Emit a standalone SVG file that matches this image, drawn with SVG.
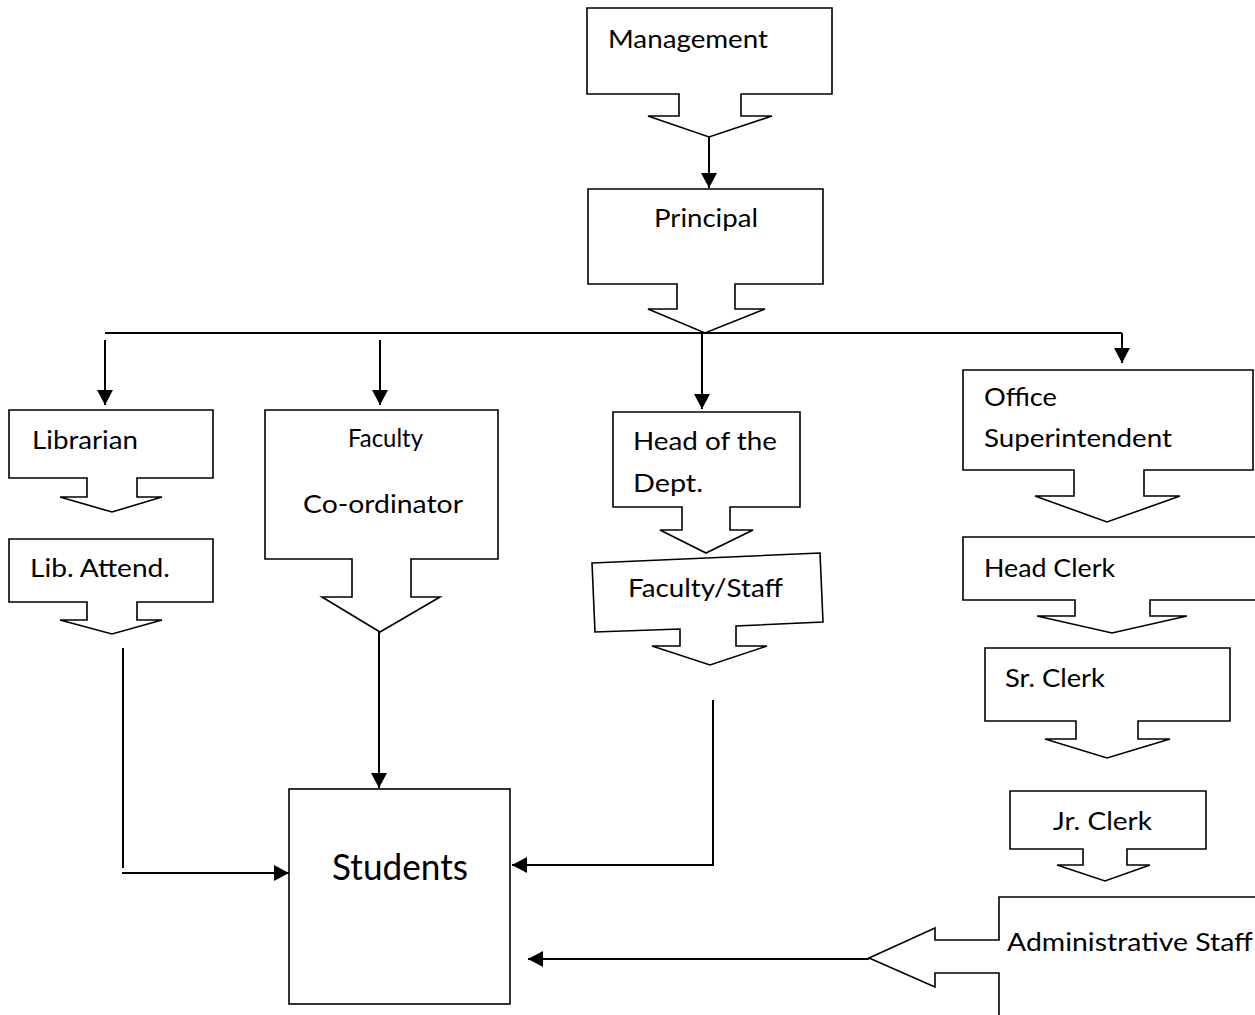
<svg xmlns="http://www.w3.org/2000/svg" width="1255" height="1015" viewBox="0 0 1255 1015">
<style>
.shape{fill:#fff;stroke:#000;stroke-width:1.6;stroke-linejoin:miter}
.conn{fill:none;stroke:#000;stroke-width:2}
text{font-family:Lato,"Liberation Sans",sans-serif;font-size:25px;fill:#000}
.big{font-size:36px}
</style>
<defs>
<marker id="ah" markerUnits="userSpaceOnUse" markerWidth="16" markerHeight="16" viewBox="0 0 16 16" refX="15" refY="8" orient="auto">
<path d="M0,0 L15,8 L0,16 Z" fill="#000"/>
</marker>
</defs>
<rect width="1255" height="1015" fill="#fff"/>
<g id="connectors">
<line class="conn" x1="709" y1="137" x2="709" y2="188" marker-end="url(#ah)"/>
<line class="conn" x1="105" y1="333" x2="1122" y2="333"/>
<line class="conn" x1="105" y1="340" x2="105" y2="405" marker-end="url(#ah)"/>
<line class="conn" x1="380" y1="340" x2="380" y2="405" marker-end="url(#ah)"/>
<line class="conn" x1="702" y1="333" x2="702" y2="409" marker-end="url(#ah)"/>
<line class="conn" x1="1122" y1="333" x2="1122" y2="363" marker-end="url(#ah)"/>
<line class="conn" x1="123" y1="648" x2="123" y2="868"/>
<line class="conn" x1="122" y1="873" x2="289" y2="873" marker-end="url(#ah)"/>
<line class="conn" x1="379" y1="632" x2="379" y2="788" marker-end="url(#ah)"/>
<polyline class="conn" points="713,700 713,865 512,865" marker-end="url(#ah)"/>
<line class="conn" x1="869" y1="959" x2="528" y2="959" marker-end="url(#ah)"/>
</g>
<g id="management">
<path class="shape" d="M587,8 H832 V94 H741 V116 H772 L709,137 L648,116 H679 V94 H587 Z"/>
<text x="608" y="48" textLength="160" lengthAdjust="spacingAndGlyphs">Management</text>
</g>
<g id="principal">
<path class="shape" d="M588,189 H823 V284 H735 V309 H765 L705,333 L648,309 H677 V284 H588 Z"/>
<text x="654" y="227" textLength="104" lengthAdjust="spacingAndGlyphs">Principal</text>
</g>
<g id="librarian">
<path class="shape" d="M9,410 H213 V478 H137 V497 H162 L112,512 L60,497 H87 V478 H9 Z"/>
<text x="32" y="449" textLength="106" lengthAdjust="spacingAndGlyphs">Librarian</text>
</g>
<g id="lib-attend">
<path class="shape" d="M9,539 H213 V602 H137 V620 H162 L112,634 L60,620 H87 V602 H9 Z"/>
<text x="30" y="577" textLength="140" lengthAdjust="spacingAndGlyphs">Lib. Attend.</text>
</g>
<g id="faculty-coordinator">
<path class="shape" d="M265,410 H498 V559 H411 V597 H440 L380,632 L322,597 H352 V559 H265 Z"/>
<text x="348" y="447" textLength="75" lengthAdjust="spacingAndGlyphs">Faculty</text>
<text x="303" y="513" textLength="160" lengthAdjust="spacingAndGlyphs">Co-ordinator</text>
</g>
<g id="head-of-dept">
<path class="shape" d="M613,412 H800 V507 H730 V530 H753 L706,553 L660,530 H682 V507 H613 Z"/>
<text x="633" y="450" textLength="144" lengthAdjust="spacingAndGlyphs">Head of the</text>
<text x="633" y="492" textLength="70" lengthAdjust="spacingAndGlyphs">Dept.</text>
</g>
<g id="faculty-staff">
<path class="shape" d="M592,563 L820,553 L823,622 L736,626 V646 H767 L710,665 L652,646 H680 V629 L595,632 Z"/>
<text x="628" y="597" textLength="155" lengthAdjust="spacingAndGlyphs">Faculty/Staff</text>
</g>
<g id="office-superintendent">
<path class="shape" d="M963,370 H1253 V470 H1144 V496 H1180 L1107,522 L1035,496 H1074 V470 H963 Z"/>
<text x="984" y="406" textLength="73" lengthAdjust="spacingAndGlyphs">Office</text>
<text x="984" y="447" textLength="188" lengthAdjust="spacingAndGlyphs">Superintendent</text>
</g>
<g id="head-clerk">
<path class="shape" d="M963,537 H1258 V600 H1150 V616 H1187 L1112,633 L1037,616 H1075 V600 H963 Z"/>
<text x="984" y="577" textLength="131" lengthAdjust="spacingAndGlyphs">Head Clerk</text>
</g>
<g id="sr-clerk">
<path class="shape" d="M985,648 H1230 V721 H1138 V739 H1170 L1107,758 L1045,739 H1076 V721 H985 Z"/>
<text x="1005" y="687" textLength="100" lengthAdjust="spacingAndGlyphs">Sr. Clerk</text>
</g>
<g id="jr-clerk">
<path class="shape" d="M1010,791 H1206 V849 H1127 V865 H1150 L1105,881 L1057,865 H1083 V849 H1010 Z"/>
<text x="1053" y="830" textLength="99" lengthAdjust="spacingAndGlyphs">Jr. Clerk</text>
</g>
<g id="administrative-staff">
<path class="shape" d="M1262,897 H999 V940 H935 V928 L869,958 L935,987 V973 H999 V1022 H1262 Z"/>
<text x="1007" y="951" textLength="246" lengthAdjust="spacingAndGlyphs">Administrative Staff</text>
</g>
<g id="students">
<rect class="shape" x="289" y="789" width="221" height="215" stroke-width="2"/>
<text class="big" x="332" y="880" textLength="136" lengthAdjust="spacingAndGlyphs">Students</text>
</g>
</svg>
